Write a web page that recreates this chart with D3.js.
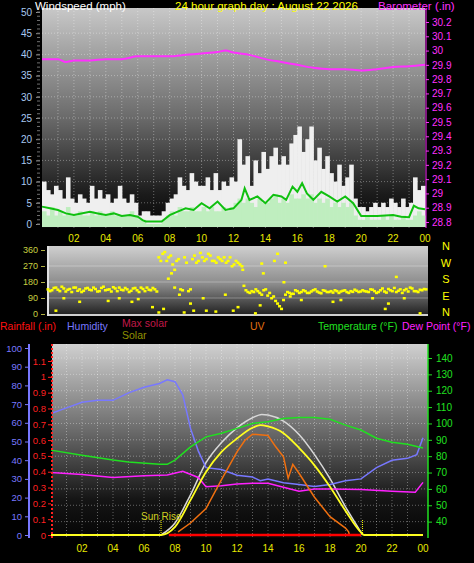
<!DOCTYPE html>
<html><head><meta charset="utf-8">
<script src="https://cdn.jsdelivr.net/npm/d3@7"></script>
<style>
body{margin:0;background:#000;}
svg{display:block;font-family:"Liberation Sans",Arial,sans-serif;}
</style></head><body>
<script>
const width = 474, height = 563;

// wind gust / speed, one value per quarter hour (mph)
const gust = [10,8,7,9, 8,6,11,6, 5,7,6,5, 9,6,8,6, 7,5,6,9, 6,5,7,5, 2,3,3,2, 2,2,3,5,
  6,7,11,9, 8,12,10,9, 9,11,8,12, 8,10,9,11, 10,20,14,16, 9,15,12,17, 13,16,18,14, 16,14,19,21,
  23,17,20,23, 15,18,13,16, 12,10,14,9, 11,14,6,4, 4,3,4,5, 4,5,4,6, 5,4,6,4, 5,11,8,9];
const speed = [3,2,4,2, 3,2,4,2, 2,3,2,2, 3,2,3,2, 2,3,2,2, 2,2,3,2, 1,1,0,0, 0,0,1,2,
  3,2,4,3, 3,4,3,3, 4,3,4,3, 3,4,3,4, 5,6,5,6, 5,4,6,5, 5,6,7,5, 6,5,7,6,
  6,7,6,7, 5,6,5,6, 4,5,4,5, 4,5,2,1, 1,2,1,1, 1,2,1,2, 1,1,2,1, 1,2,3,2];
const avgHours = [0,0.5,1,1.5,2,3,3.5,4,4.5,5,5.5,6,6.3,6.5,7,7.5,8,8.5,9,9.5,10,10.5,11,11.5,12,12.5,12.7,13,13.5,14,14.5,15,15.3,15.7,16,16.3,16.6,17,17.5,18,18.5,19,19.5,20,21,22,22.5,23,23.3,23.6,24];
const avgSpeed = [4.1,3.7,3.3,2.5,2.1,2.9,2.5,2.1,2.5,1.9,2.1,1.7,0.9,0.6,0.6,0.6,2.1,2.9,3.7,3.3,4.9,3.7,5.3,3.3,3.7,5.7,8.4,5.7,6.5,4.9,6.9,6.5,5.7,8.8,7.6,9.6,7.2,5.7,7.6,6.5,5.3,6.5,4.9,1.9,1.9,2.1,1.7,1.6,4.3,3.7,3.5];

const baroHours = [0,1,1.5,2,3,4,5,6,7,8,9,10,11,11.5,12,13,14,15,16,17,18,19,20,21,22,23,24];
const baro = [29.94,29.94,29.92,29.93,29.93,29.94,29.94,29.96,29.96,29.96,29.97,29.98,29.99,30.0,29.986,29.97,29.94,29.92,29.90,29.88,29.87,29.87,29.86,29.87,29.885,29.89,29.90];

// wind direction, two readings per quarter hour (degrees) plus scattered readings
const dirA = [140,135,150,130,145,138,125,150,140,132,148,135,142,130,155,138,128,145,150,135,140,132,148,125,142,150,135,140,
  320,340,300,330, 150,310,135,290, 140,330,300,320, 310,330,300,320, 300,290,320,280, 290,270,135,120, 125,130,110,140, 120,100,60,30, 110,120,115,130,
  125,130,120,135,128,118,132,125,122,130,128,135,120,126,132,128,130,125,138,120,135,128,142,130,125,140,135,128,145,130,138,142];
const dirB = [130,148,138,155,128,142,150,132,125,145,138,150,128,148,135,140,152,130,138,148,125,145,135,150,130,138,148,128,
  300,350,320,280, 300,140,320,130, 310,290,345,300, 340,300,290,310, 320,300,270,300, 280,160,125,130, 140,120,135,105, 90,75,45,80, 125,115,135,120,
  135,120,128,140,122,135,125,130,135,120,132,125,130,138,125,135,128,140,130,125,145,122,135,148,132,120,142,150,130,125,135,140];
const dirExtra = [[0.5,20],[1,90],[2,70],[3.8,75],[4.5,90],[5.3,70],[5.7,85],[6.6,40],[7,10],[7.3,30],[7.6,200],[7.8,230],[8,250],[8.3,110],[8.6,10],[9,60],[9.2,20],[9.8,90],[10,20],[10.6,15],[11.2,110],[11.7,20],[12,40],[12.3,250],[13.1,5],[13.4,50],[13.5,285],[13.6,230],[14.3,300],[14.5,340],[14.9,180],[15,290],[15.3,100],[16,80],[17.5,270],[18,70],[18.5,80],[20.5,90],[21.3,30],[21.5,60],[22,210],[22.5,90],[23.5,5]];

// bottom panel
const humHours = [0,1,2,3,4,5,6,7,7.5,8,8.5,9,9.5,10,11,12,13,13.5,14,15,16,17,18,19,20,21,22,23,23.6,24];
const humidity = [65,68,71,72,72,76,79,81,83,82,75,57,45,36,35,32,31,29,30,28,27,26,27,29,30,36,40,41,43,52];
const tempHours = [0,2,4,5,7,7.5,8,9,10,11,12,13,14,15,16,17,18,19,20,21,22,23,24];
const temperature = [83.7,80.6,77.6,76.5,75,75,77.6,85.7,91.8,94,97,100,101,103,103.7,103.7,102.6,99,96,91,88.5,87.3,85];
const dewHours = [0,2,4,6,7.5,8.5,9.5,10,11,12,13,14,15,16,17,18,20,22,23.5,24];
const dewPoint = [70,68.8,67,68,68.5,70.8,67,61.3,62,63,63.5,63.5,61,58.6,60,60,59.6,58.6,58,64];
const maxSolarHours = [7.1,8,9,10,11,12,13,13.6,14,15,16,17,18,19,20,20.1];
const maxSolar = [0,90,300,540,690,800,875,900,895,850,750,600,420,210,20,0];
const solarHours = [0,7.1,8,9,10,11,12,13,13.5,14,15,16,17,18,19,20,20.2,24];
const solar = [0,0,60,260,470,620,720,800,820,810,760,650,520,360,180,20,0,0];
const uvHours = [8.2,9,10,11,12,12.5,13,14,14.5,15,15.3,15.6,16,17,18,19,19.2,19.25];
const uv = [0.25,0.95,2.1,4.4,6.6,7.5,8,7.9,7,6.2,4.5,5.6,4.9,3,1.45,0.55,0.25,0];
const rainHours = [7.6,20];
const rain = [0,0];
const sunRise = 7.1, sunSet = 20.1;

const hourTicks = [2,4,6,8,10,12,14,16,18,20,22,24];
const fmtHour = h => String(h % 24).padStart(2, '0');

const svg = d3.select('body').append('svg').attr('width', width).attr('height', height);
const defs = svg.append('defs');
function grad(id, stops) {
  const g = defs.append('linearGradient').attr('id', id).attr('x1', 0).attr('x2', 0).attr('y1', 0).attr('y2', 1);
  stops.forEach(s => g.append('stop').attr('offset', s[0]).attr('stop-color', s[1]));
}
grad('gTop', [[0, '#c8c8c8'], [0.5, '#6a6a6a'], [0.85, '#1a1a1a'], [1, '#080808']]);
grad('gDir', [[0, '#cfcfcf'], [0.55, '#8a8a8a'], [1, '#1c1c1c']]);
grad('gBot', [[0, '#d0d0d0'], [0.45, '#6a6a6a'], [0.8, '#151515'], [1, '#050505']]);

function grid(g, x, y, x0, x1, y0, y1, yVals) {
  d3.range(1, 24).forEach(h => g.append('line').attr('x1', x(h)).attr('x2', x(h)).attr('y1', y0).attr('y2', y1)
    .attr('stroke', '#ffffff').attr('stroke-opacity', 0.35).attr('stroke-dasharray', '1,2'));
  yVals.forEach(v => g.append('line').attr('x1', x0).attr('x2', x1).attr('y1', y(v)).attr('y2', y(v))
    .attr('stroke', '#ffffff').attr('stroke-opacity', 0.35).attr('stroke-dasharray', '1,2'));
}
function hourLabels(x, yPos) {
  svg.append('g').selectAll('text').data(hourTicks).join('text')
    .attr('x', d => x(d)).attr('y', yPos).attr('text-anchor', 'middle')
    .attr('fill', '#e8e800').style('font-size', '10px').text(fmtHour);
}

// ---------- top panel: wind + barometer ----------
const xT = d3.scaleLinear().domain([0, 24]).range([42, 425]);
const yW = d3.scaleLinear().domain([0, 50]).range([224, 12]);
const yB = d3.scaleLinear().domain([28.8, 30.2]).range([222, 22]);
svg.append('rect').attr('x', 42).attr('y', 8).attr('width', 383).attr('height', 220).attr('fill', 'url(#gTop)');
grid(svg.append('g'), xT, yW, 42, 425, 8, 228, d3.range(5, 50, 5));

const bw = (xT(0.25) - xT(0)) + 0.6;
svg.append('g').selectAll('rect').data(gust).join('rect')
  .attr('x', (d, i) => xT(i / 4)).attr('width', bw).attr('y', d => yW(d)).attr('height', d => yW(0) - yW(d) + 3)
  .attr('fill', '#efefef');
svg.append('g').selectAll('rect').data(speed).join('rect')
  .attr('x', (d, i) => xT(i / 4)).attr('width', bw).attr('y', d => yW(d)).attr('height', d => yW(0) - yW(d) + 3)
  .attr('fill', '#bfeebf');
svg.append('path').datum(avgSpeed)
  .attr('d', d3.line().x((d, i) => xT(avgHours[i])).y(d => yW(d)))
  .attr('fill', 'none').attr('stroke', '#10c010').attr('stroke-width', 2);
svg.append('path').datum(baro)
  .attr('d', d3.line().x((d, i) => xT(baroHours[i])).y(d => yB(d)).curve(d3.curveMonotoneX))
  .attr('fill', 'none').attr('stroke', '#ff30ff').attr('stroke-width', 2);

// left wind axis
const axW = svg.append('g').attr('transform', 'translate(40,0)')
  .call(d3.axisLeft(yW).tickValues(d3.range(0, 51, 5)).tickSize(4).tickPadding(4));
axW.select('.domain').remove();
axW.selectAll('line').attr('stroke', '#909090');
axW.selectAll('text').attr('fill', '#a8c8f0').style('font-size', '10px').style('font-family', 'Liberation Sans');
svg.append('g').selectAll('line').data(d3.range(0, 51)).join('line')
  .attr('x1', 37).attr('x2', 40).attr('y1', d => yW(d)).attr('y2', d => yW(d)).attr('stroke', '#707070');
// right barometer axis
svg.append('line').attr('x1', 426).attr('x2', 426).attr('y1', 8).attr('y2', 228).attr('stroke', '#ff30ff');
const axB = svg.append('g').attr('transform', 'translate(426,0)')
  .call(d3.axisRight(yB).tickValues(d3.range(28.8, 30.21, 0.1)).tickFormat(d3.format('.1f')).tickSize(3).tickPadding(3));
axB.select('.domain').remove();
axB.selectAll('line').attr('stroke', '#ff30ff');
axB.selectAll('text').attr('fill', '#ff30ff').style('font-size', '10px').style('font-family', 'Liberation Sans')
  .text(d => { const s = d3.format('.1f')(d); return s.endsWith('.0') ? s.slice(0, -2) : s; });
hourLabels(xT, 242);

svg.append('text').attr('x', 35).attr('y', 10).attr('fill', '#ffffff').style('font-size', '11.5px').text('Windspeed (mph)');
svg.append('text').attr('x', 175).attr('y', 10).attr('fill', '#ffff00').style('font-size', '11.5px').text('24 hour graph day : August 22 2026');
svg.append('text').attr('x', 378).attr('y', 10).attr('fill', '#ff30ff').style('font-size', '11.5px').text('Barometer (.in)');

// ---------- direction panel ----------
const xD = d3.scaleLinear().domain([0, 24]).range([48, 428]);
const yD = d3.scaleLinear().domain([0, 360]).range([314, 250]);
svg.append('rect').attr('x', 48).attr('y', 246).attr('width', 380).attr('height', 70).attr('fill', 'url(#gDir)');
[90, 180, 270].forEach(v => svg.append('line').attr('x1', 48).attr('x2', 428).attr('y1', yD(v)).attr('y2', yD(v))
  .attr('stroke', '#ffffff').attr('stroke-opacity', 0.3));
svg.append('line').attr('x1', 48).attr('x2', 428).attr('y1', 315).attr('y2', 315).attr('stroke', '#d0d0d0').attr('stroke-width', 2);
svg.append('line').attr('x1', 48).attr('x2', 48).attr('y1', 246).attr('y2', 316).attr('stroke', '#e0e0e0').attr('stroke-width', 2);
const dirPts = dirA.map((d, i) => [i / 4, d]).concat(dirB.map((d, i) => [i / 4 + 0.125, d]), dirExtra);
svg.append('g').selectAll('rect').data(dirPts).join('rect')
  .attr('x', d => xD(d[0]) - 1.5).attr('y', d => yD(d[1]) - 1).attr('width', 3).attr('height', 2.5).attr('fill', '#ffff00');
const axD = svg.append('g').attr('transform', 'translate(45,0)')
  .call(d3.axisLeft(yD).tickValues([0, 90, 180, 270, 360]).tickSize(4).tickPadding(3));
axD.select('.domain').remove();
axD.selectAll('line').attr('stroke', '#b0b040');
axD.selectAll('text').attr('fill', '#c8d040').style('font-size', '9px').style('font-family', 'Liberation Sans');
const compass = ['N', 'E', 'S', 'W', 'N'];
svg.append('g').selectAll('text').data([0, 90, 180, 270, 360]).join('text')
  .attr('x', 446).attr('y', d => 246 + (360 - d) / 90 * 16.5 + 4).attr('text-anchor', 'middle')
  .attr('fill', '#ffff00').style('font-size', '11px').text((d, i) => compass[i]);

// ---------- bottom panel ----------
const xL = d3.scaleLinear().domain([0, 24]).range([51, 423]);
const yH = d3.scaleLinear().domain([0, 100]).range([535, 348]);
const yR = d3.scaleLinear().domain([0, 1.1]).range([535, 361]);
const yTmp = d3.scaleLinear().domain([30, 140]).range([538, 358]);
const ySol = d3.scaleLinear().domain([0, 1000]).range([535, 401]);
const yUV = d3.scaleLinear().domain([0, 10]).range([535, 409]);
svg.append('rect').attr('x', 52).attr('y', 344).attr('width', 376).attr('height', 194).attr('fill', 'url(#gBot)');
grid(svg.append('g'), xL, yTmp, 52, 428, 344, 538, d3.range(40, 145, 10));

const line = (hours, ys) => d3.line().x((d, i) => xL(hours[i])).y(d => ys(d));
svg.append('path').datum(maxSolar).attr('d', line(maxSolarHours, ySol).curve(d3.curveMonotoneX))
  .attr('fill', 'none').attr('stroke', '#d8d8d8').attr('stroke-width', 1.5);
svg.append('path').datum(humidity).attr('d', line(humHours, yH))
  .attr('fill', 'none').attr('stroke', '#7878ff').attr('stroke-width', 1.5);
svg.append('path').datum(temperature).attr('d', line(tempHours, yTmp))
  .attr('fill', 'none').attr('stroke', '#20e020').attr('stroke-width', 1.5);
svg.append('path').datum(dewPoint).attr('d', line(dewHours, yTmp))
  .attr('fill', 'none').attr('stroke', '#ff20ff').attr('stroke-width', 1.5);
svg.append('path').datum(uv).attr('d', line(uvHours, yUV))
  .attr('fill', 'none').attr('stroke', '#f07010').attr('stroke-width', 1.5);
svg.append('path').datum(solar).attr('d', line(solarHours, ySol).curve(d3.curveMonotoneX))
  .attr('fill', 'none').attr('stroke', '#ffff20').attr('stroke-width', 1.8);
svg.append('path').datum(rain).attr('d', line(rainHours, yR))
  .attr('fill', 'none').attr('stroke', '#ff0000').attr('stroke-width', 2.5);
[sunRise, sunSet].forEach(h => svg.append('line').attr('x1', xL(h)).attr('x2', xL(h)).attr('y1', 520).attr('y2', 536)
  .attr('stroke', '#ffff00').attr('stroke-dasharray', '1,1'));
svg.append('text').attr('x', xL(sunRise) - 20).attr('y', 520).attr('fill', '#d0d020').style('font-size', '10px').text('Sun Rise');

// humidity axis
svg.append('line').attr('x1', 29).attr('x2', 29).attr('y1', 344).attr('y2', 538).attr('stroke', '#7878ff').attr('stroke-width', 2);
const axH = svg.append('g').attr('transform', 'translate(29,0)')
  .call(d3.axisLeft(yH).tickValues(d3.range(0, 101, 10)).tickSize(4).tickPadding(3));
axH.select('.domain').remove();
axH.selectAll('line').attr('stroke', '#7878ff');
axH.selectAll('text').attr('fill', '#7878ff').style('font-size', '9.5px').style('font-family', 'Liberation Sans');
// rain axis
svg.append('line').attr('x1', 52).attr('x2', 52).attr('y1', 344).attr('y2', 538).attr('stroke', '#ff2020').attr('stroke-width', 2).attr('stroke-dasharray', '2,2');
const axR = svg.append('g').attr('transform', 'translate(51,0)')
  .call(d3.axisLeft(yR).tickValues(d3.range(0, 1.15, 0.1)).tickFormat(d => d === 0 ? '0' : d3.format('.1f')(d).replace(/\.0$/, '')).tickSize(3).tickPadding(2));
axR.select('.domain').remove();
axR.selectAll('line').attr('stroke', '#ff2020');
axR.selectAll('text').attr('fill', '#ff2020').style('font-size', '9.5px').style('font-family', 'Liberation Sans');
// temperature axis
svg.append('line').attr('x1', 428).attr('x2', 428).attr('y1', 344).attr('y2', 538).attr('stroke', '#20e020').attr('stroke-width', 1.5);
const axT = svg.append('g').attr('transform', 'translate(428,0)')
  .call(d3.axisRight(yTmp).tickValues(d3.range(40, 141, 10)).tickSize(4).tickPadding(4));
axT.select('.domain').remove();
axT.selectAll('line').attr('stroke', '#20e020');
axT.selectAll('text').attr('fill', '#20e020').style('font-size', '10px').style('font-family', 'Liberation Sans');
hourLabels(xL, 552);

// legend
const leg = [['Rainfall (.in)', 0, 330, '#ff1010'], ['Humidity', 67, 330, '#7878ff'], ['Max solar', 122, 327, '#c01848'],
  ['Solar', 122, 339, '#909000'], ['UV', 250, 330, '#e07010'], ['Temperature (°F)', 318, 330, '#20e020'], ['Dew Point (°F)', 402, 330, '#ff20ff']];
svg.append('g').selectAll('text').data(leg).join('text')
  .attr('x', d => d[1]).attr('y', d => d[2]).attr('fill', d => d[3]).style('font-size', '10.5px').text(d => d[0]);
</script>
</body></html>
